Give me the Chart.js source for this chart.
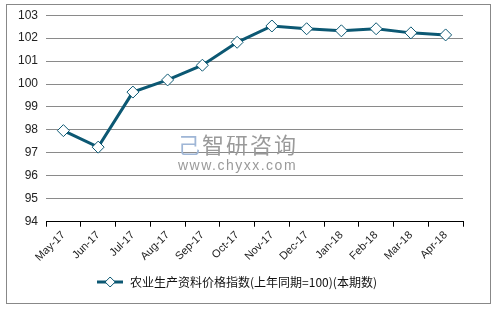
<!DOCTYPE html>
<html>
<head>
<meta charset="utf-8">
<script src="https://cdn.jsdelivr.net/npm/chart.js@4"></script>
<style>
  body { margin: 0; background: #fff; }
  #wrap { position: relative; width: 496px; height: 309px; }
  #frame { position: absolute; left: 6px; top: 4px; width: 485px; height: 300px; border: 1px solid #888; box-sizing: border-box; }
  .wm { position: absolute; color: #9a9a9a; font-family: "Noto Sans CJK SC", sans-serif; }
</style>
</head>
<body>
<div id="wrap">
  <div id="frame"></div>
  <canvas id="chart" width="496" height="309"></canvas>
  <div class="wm" style="left:178px;top:127px;font-size:22px;letter-spacing:2px;">
    <span style="color:#9fb6d6;">己</span>智研咨询
  </div>
  <div class="wm" style="left:178px;top:157px;font-size:14px;letter-spacing:1.5px;font-family:'Liberation Sans',sans-serif;">www.chyxx.com</div>
</div>
<script>
// data
const months = ["May-17","Jun-17","Jul-17","Aug-17","Sep-17","Oct-17","Nov-17","Dec-17","Jan-18","Feb-18","Mar-18","Apr-18"];
const priceIndex = [97.97, 97.25, 99.65, 100.18, 100.82, 101.82, 102.53, 102.41, 102.32, 102.41, 102.23, 102.14];
const seriesName = "农业生产资料价格指数(上年同期=100)(本期数)";

const lineColor = "#0c5873";

// legend marker: line with a diamond in the middle
const mark = document.createElement("canvas");
mark.width = 26; mark.height = 12;
const m = mark.getContext("2d");
m.strokeStyle = lineColor; m.lineWidth = 3;
m.beginPath(); m.moveTo(0, 6); m.lineTo(26, 6); m.stroke();
m.fillStyle = "#fff"; m.lineWidth = 1;
m.beginPath(); m.moveTo(13, 1); m.lineTo(18, 6); m.lineTo(13, 11); m.lineTo(8, 6); m.closePath();
m.fill(); m.stroke();

new Chart(document.getElementById("chart"), {
  type: "line",
  data: {
    labels: months,
    datasets: [{
      label: seriesName,
      data: priceIndex,
      borderColor: lineColor,
      borderWidth: 3,
      pointStyle: "rectRot",
      pointRadius: 6,
      pointBackgroundColor: "#fff",
      pointBorderColor: lineColor,
      pointBorderWidth: 1,
      tension: 0
    }]
  },
  options: {
    responsive: false,
    animation: false,
    layout: { padding: { left: 10, right: 33, top: 11, bottom: 11 } },
    scales: {
      x: {
        offset: true,
        grid: { offset: true, drawOnChartArea: false, drawTicks: true, tickLength: 5, color: "#000" },
        border: { display: true, color: "#000" },
        ticks: { maxRotation: 45, minRotation: 45, color: "#222", font: { family: "Liberation Sans", size: 11 }, padding: 2 }
      },
      y: {
        min: 94, max: 103,
        grid: { color: "#8a8a8a", drawTicks: false },
        border: { display: false },
        ticks: { stepSize: 1, color: "#222", font: { family: "Liberation Sans", size: 12 }, padding: 8 }
      }
    },
    plugins: {
      legend: {
        position: "bottom",
        labels: {
          usePointStyle: true,
          pointStyle: mark,
          pointStyleWidth: 28,
          color: "#111",
          font: { family: "Noto Sans CJK SC", size: 12 },
          padding: 10
        }
      },
      tooltip: { enabled: false }
    }
  }
});
</script>
</body>
</html>
